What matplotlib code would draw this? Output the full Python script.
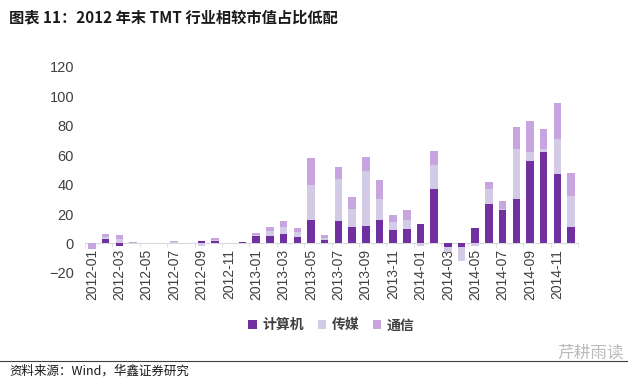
import matplotlib
matplotlib.use("Agg")
import matplotlib.pyplot as plt
import numpy as np

plt.rcParams['font.family'] = ['Liberation Sans', 'Noto Sans CJK SC', 'DejaVu Sans']

months = [f"{y}-{m:02d}" for y in (2012, 2013, 2014) for m in range(1, 13)]

# values (market value weight gap, stacked by sector)
computer = [0, 3, -2, 0, 0, 0, 0, 0, 1.5, 1.5, 0, 1,
            5, 5, 6.5, 4.5, 16, 2, 15, 11, 12, 16, 9, 10,
            13, 37, -2.5, -2.5, 10.5, 26.5, 22.5, 30.5, 56, 62, 47.5, 11]
media = [0, 1.5, 3, 0.5, 0.3, 0, 1, 0.5, -1.5, 0.5, 0.3, 0,
         1, 3.5, 4.5, 3, 24, 2, 29, 12.5, 37, 14, 5.5, 6,
         -1.5, 16, -3, -9.5, -2, 10.5, 1, 34, 6, 2.5, 23.5, 21]
telecom = [-3.5, 2, 2.5, 0.3, 0, 0, 0.5, 0, 0, 1.5, 0, 0,
           1, 3, 4, 3, 18, 2, 8, 8, 9.5, 13, 4.5, 6.5,
           0, 10, 0, 0, 0, 5, 5.5, 15, 21, 13.5, 24.5, 16]

names = ['计算机', '传媒', '通信']
colors = ['#7030A0', '#D3CAE6', '#C9A5E0']

fig = plt.figure(figsize=(6.4, 3.87), dpi=100)
ax = fig.add_axes([0.133, 0.295, 0.77, 0.532])

x = np.arange(len(months))
pos_base = np.zeros(len(months))
neg_base = np.zeros(len(months))
for vals, name, c in zip([computer, media, telecom], names, colors):
    v = np.array(vals, dtype=float)
    base = np.where(v >= 0, pos_base, neg_base)
    ax.bar(x, v, bottom=base, width=0.55, color=c, label=name, zorder=2)
    pos_base += np.where(v >= 0, v, 0)
    neg_base += np.where(v < 0, v, 0)

ax.set_xlim(-0.5, len(months) - 0.5)
ax.set_ylim(-20, 120)
ax.set_yticks(range(-20, 121, 20))

for s in ['top', 'right', 'left']:
    ax.spines[s].set_visible(False)
ax.spines['bottom'].set_position(('data', 0))
ax.spines['bottom'].set_color('#D9D9D9')
ax.spines['bottom'].set_zorder(1)

ax.set_xticks(x[::2])
ax.set_xticklabels(months[::2], rotation=90, fontsize=10, color='#404040')
ax.tick_params(axis='x', length=0, pad=4)
ax.set_xticks(np.arange(-0.5, len(months), 2), minor=True)
ax.tick_params(axis='x', which='minor', length=3, color='#D9D9D9')
ax.tick_params(axis='y', length=0, labelsize=10.5, labelcolor='#404040', pad=8)

leg = ax.legend(loc='upper center', bbox_to_anchor=(0.5, -0.16), ncol=3, frameon=False,
                handlelength=0.6, handleheight=0.6, handletextpad=0.4, columnspacing=1.0,
                prop={'family': ['Noto Sans CJK SC'], 'size': 10, 'weight': 'bold'})
for t in leg.get_texts():
    t.set_color('#404040')

fig.text(0.014, 0.955, '图表 11：2012 年末 TMT 行业相较市值占比低配', fontsize=11,
         fontweight='bold', family=['Noto Sans CJK SC'], color='#1a1a1a', va='center')

fig.add_artist(plt.Line2D([0.0, 0.98], [0.068, 0.068], transform=fig.transFigure,
                          color='#404040', lw=0.8))
fig.text(0.014, 0.04, '资料来源：Wind，华鑫证券研究', fontsize=9, family=['Noto Sans CJK SC'],
         color='#1a1a1a', va='center')
fig.text(0.975, 0.088, '芹耕雨读', fontsize=12, family=['Noto Sans CJK SC'],
         color='#BBBBBB', ha='right', va='center')

fig.savefig('out.png', dpi=100)
